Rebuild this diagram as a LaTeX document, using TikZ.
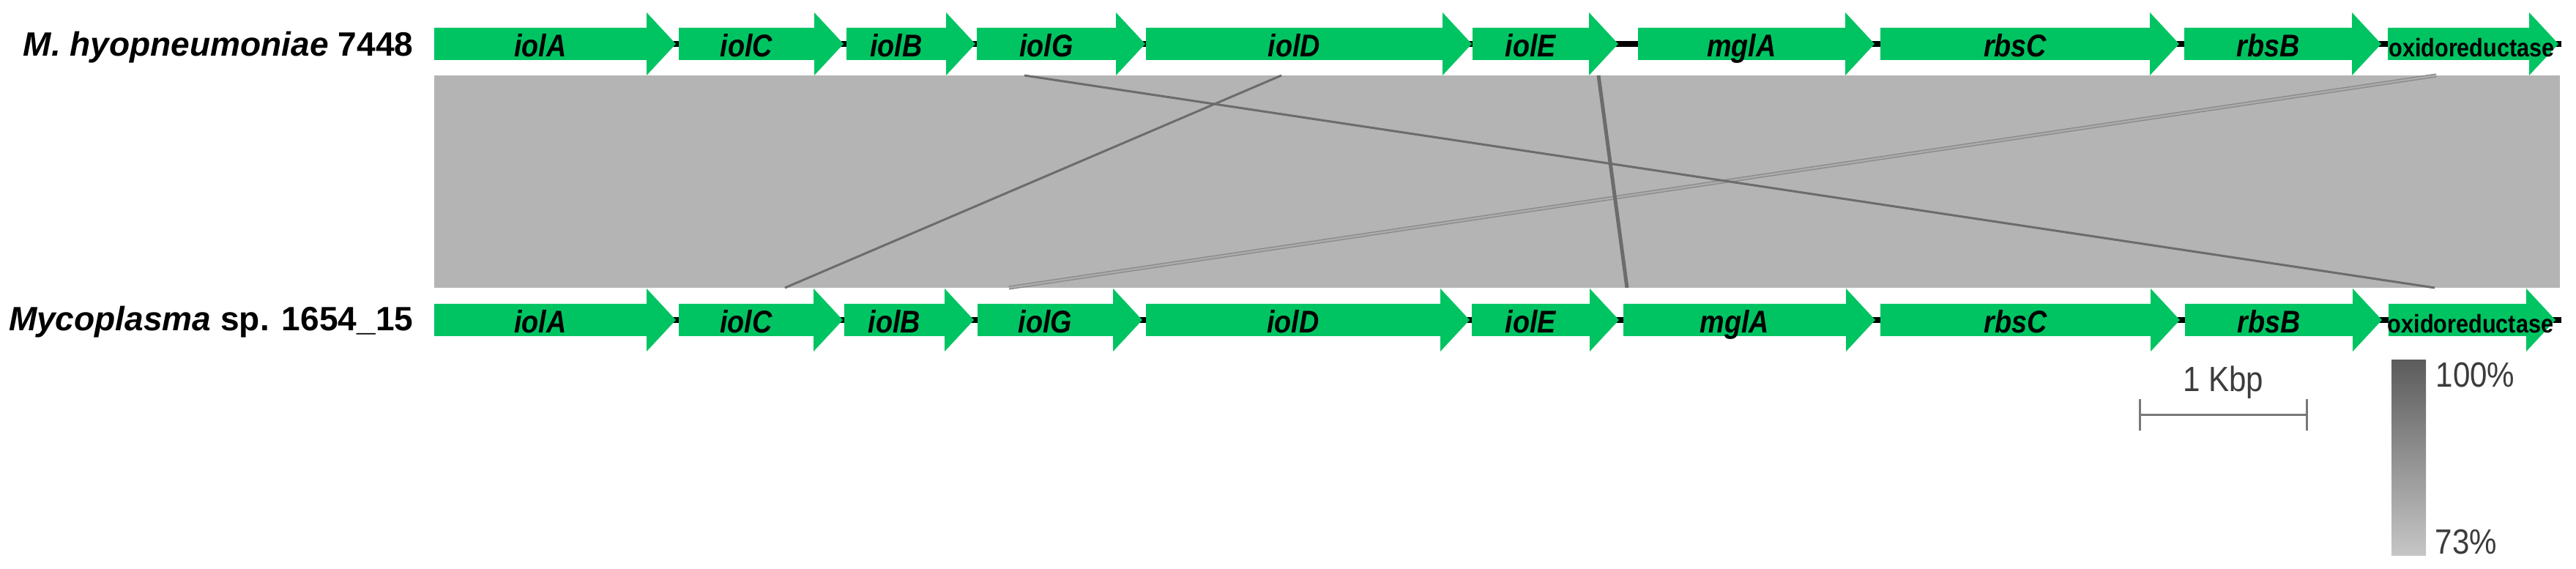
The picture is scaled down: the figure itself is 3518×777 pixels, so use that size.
\documentclass[tikz,border=0pt]{standalone}
\usepackage{fontspec}
\setmainfont{Liberation Sans}
\newfontfamily\narrowfont[FakeStretch=0.88]{Liberation Sans}
\usetikzlibrary{positioning}

\definecolor{genegreen}{RGB}{0,196,98}
\definecolor{bandgray}{RGB}{180,180,180}
\definecolor{hitgray}{RGB}{108,108,108}
\definecolor{pairgray}{RGB}{138,138,138}
\definecolor{pairfill}{RGB}{172,172,172}
\definecolor{scalegray}{RGB}{120,120,120}
\definecolor{legendtext}{RGB}{60,60,60}
\definecolor{shadetop}{RGB}{92,92,92}
\definecolor{shadebottom}{RGB}{198,198,198}

\begin{document}
\begin{tikzpicture}[x=0.01cm,y=-0.01cm,
    gene/.style={fill=genegreen},
    backbone/.style={draw=black,line width=0.08cm},
    genename/.style={anchor=base,inner sep=0pt,font=\narrowfont\fontsize{12.2pt}{14pt}\selectfont\bfseries\itshape},
    oxname/.style={anchor=base,inner sep=0pt,xshift=0.18cm,font=\narrowfont\fontsize{9.9pt}{11pt}\selectfont\bfseries},
    species/.style={anchor=base east,inner sep=0pt,font=\fontsize{13.1pt}{15pt}\selectfont\bfseries},
    hit/.style={draw=hitgray,line width=0.03cm},
    pairhit/.style={draw=pairgray,double=pairfill,double distance=0.024cm,line width=0.014cm},
    legend/.style={inner sep=0pt,text=legendtext,font=\narrowfont\fontsize{13.6pt}{15pt}\selectfont}]

    \useasboundingbox (0,0) rectangle (3518,777);

    \fill[bandgray] (593,103) rectangle (3496,393);
    \draw[backbone] (593,60) -- (3498,60);
    \draw[backbone] (593,437) -- (3498,437);

    \foreach \n/\s/\t/\f in {iolA/593/923/genename, iolC/927/1152/genename, iolB/1156/1332/genename,
        iolG/1334/1564/genename, iolD/1565/2010/genename, iolE/2011/2210/genename, mglA/2237/2560/genename,
        rbsC/2568/2976/genename, rbsB/2983/3252/genename, oxidoreductase/3261/3494/oxname}{
        \fill[gene] (\s,38) -- (\t-40,38) -- (\t-40,17) -- (\t,60) -- (\t-40,103) -- (\t-40,82) -- (\s,82) -- cycle;
        \node[\f] (a\n) at ({(\s+\t-40)/2},78) {\n};
    }
    \foreach \n/\s/\t/\f in {iolA/593/923/genename, iolC/927/1151/genename, iolB/1153/1330/genename,
        iolG/1335/1560/genename, iolD/1565/2007/genename, iolE/2010/2211/genename, mglA/2217/2561/genename,
        rbsC/2568/2977/genename, rbsB/2984/3253/genename, oxidoreductase/3262/3490/oxname}{
        \fill[gene] (\s,415) -- (\t-40,415) -- (\t-40,394) -- (\t,437) -- (\t-40,480) -- (\t-40,459) -- (\s,459) -- cycle;
        \node[\f] (b\n) at ({(\s+\t-40)/2},455) {\n};
    }

    \node[species] (sa) at (565,77) {\textit{M. hyopneumoniae} 7448};
    \node[species] (sb) at (565,452) {\textit{Mycoplasma} sp. 1654\_15};

    \coordinate (h1a) at (1399,103); \coordinate (h1b) at (3325,393);
    \coordinate (h2a) at (1750,103); \coordinate (h2b) at (1072,393);
    \coordinate (h3a) at (2183,103); \coordinate (h3b) at (2222,393);
    \coordinate (h4a) at (3327,103); \coordinate (h4b) at (1378,393);
    \draw[pairhit] (h4a) -- (h4b);
    \draw[hit] (h1a) -- (h1b);
    \draw[hit] (h2a) -- (h2b);
    \draw[hit,line width=0.05cm] (h3a) -- (h3b);

    \coordinate (k0) at (2922,567);
    \coordinate (k1) at (3150,567);
    \draw[draw=scalegray,line width=0.03cm] (k0) -- (k1) (k0) ++(0,-22) -- ++(0,43) (k1) ++(0,-22) -- ++(0,43);
    \node[legend,anchor=base] (kbp) at (3036,535) {1 Kbp};

    \shade[top color=shadetop,bottom color=shadebottom] (3266,492) rectangle (3313,759);
    \node[legend,anchor=base west] (p100) at (3326,529) {100\%};
    \node[legend,anchor=base west] (p73) at (3325,757) {73\%};
\end{tikzpicture}
\end{document}
